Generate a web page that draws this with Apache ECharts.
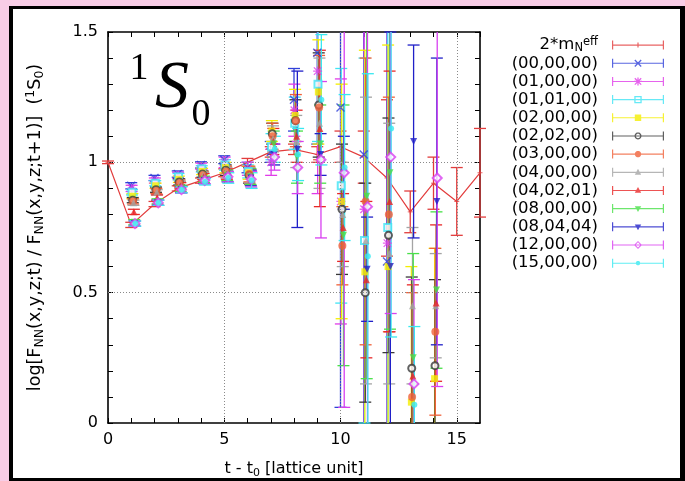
<!DOCTYPE html>
<html><head><meta charset="utf-8">
<script src="https://cdn.jsdelivr.net/npm/echarts@6/dist/echarts.min.js"></script>
<style>
html,body{margin:0;padding:0;background:#f8cde6;width:685px;height:481px;overflow:hidden}
#frame{position:absolute;left:9px;top:6px;width:676px;height:475px;box-sizing:border-box;border-left:4px solid #000;border-top:3px solid #000;border-right:5px solid #000;border-bottom:3px solid #000;background:#fff}
#chart{position:absolute;left:0;top:0;width:685px;height:481px}
</style></head>
<body><div id="frame"></div><div id="chart"></div>
<script>
// ---------------- data ----------------
const tSteps = [1,2,3,4,5,6,7,8,9,10,11,12,13,14];
const tMass = [0,1,2,3,4,5,6,7,8,9,10,11,12,13,14,15,16];
const mass2 = [1.00,0.76,0.84,0.90,0.93,0.96,1.00,1.04,1.05,1.03,1.06,1.02,0.94,0.81,0.92,0.85,0.96];
const mass2Err = [0.005,0.01,0.01,0.01,0.01,0.015,0.015,0.02,0.02,0.03,0.06,0.1,0.3,0.08,0.1,0.13,0.17];

const seriesNames = ['(00,00,00)','(01,00,00)','(01,01,00)','(02,00,00)','(02,02,00)','(03,00,00)','(04,00,00)','(04,02,01)','(08,00,00)','(08,04,04)','(12,00,00)','(15,00,00)'];
const massName = '2*mN_eff';
const xTickLabels = [0,5,10,15];
const yTickLabels = [0,0.5,1,1.5];

const v_00_00_00 = [0.91,0.94,0.955,0.99,1.01,0.98,1.04,1.24,1.42,1.21,1.03,0.62,null,null];
const e_00_00_00 = [0.012,0.01,0.012,0.012,0.015,0.02,0.04,0.12,0.35,1.15,1.1,0.9,null,null];
const v_01_00_00 = [0.90,0.93,0.95,0.985,1.00,0.975,1.00,1.20,1.35,0.85,0.82,0.69,null,null];
const e_01_00_00 = [0.012,0.01,0.012,0.012,0.02,0.025,0.05,0.1,0.47,0.47,0.9,0.9,null,null];
const v_01_01_00 = [0.885,0.92,0.945,0.975,0.99,0.965,1.06,1.15,1.30,0.91,0.70,0.75,null,null];
const e_01_01_00 = [0.01,0.01,0.012,0.012,0.02,0.025,0.05,0.1,0.22,0.45,0.7,0.9,null,null];
const v_02_00_00 = [0.87,0.91,0.935,0.965,0.98,0.96,1.12,1.18,1.27,0.85,0.58,0.60,0.08,0.17];
const e_02_00_00 = [0.01,0.01,0.012,0.012,0.02,0.025,0.04,0.1,0.2,0.45,0.85,0.85,0.52,0.5];
const v_02_02_00 = [0.855,0.895,0.925,0.955,0.97,0.95,1.11,1.16,1.22,0.82,0.50,0.72,0.21,0.22];
const e_02_02_00 = [0.01,0.01,0.012,0.012,0.02,0.03,0.04,0.08,0.2,0.25,0.42,0.45,0.35,0.33];
const v_03_00_00 = [0.85,0.89,0.92,0.95,0.965,0.955,1.10,1.16,1.21,0.68,0.85,0.80,0.10,0.35];
const e_03_00_00 = [0.01,0.01,0.012,0.015,0.02,0.03,0.05,0.1,0.2,0.15,0.55,0.45,0.4,0.32];
const v_04_00_00 = [0.845,0.885,0.915,0.95,0.96,0.95,1.09,1.08,1.15,0.80,0.70,0.65,0.45,0.45];
const e_04_00_00 = [0.01,0.01,0.012,0.012,0.02,0.03,0.05,0.1,0.25,0.2,0.55,0.5,0.3,0.2];
const v_04_02_01 = [0.81,0.865,0.91,0.945,0.955,0.945,1.08,1.10,1.13,0.75,0.55,0.85,0.18,0.46];
const e_04_02_01 = [0.01,0.01,0.012,0.012,0.02,0.03,0.05,0.1,0.3,0.13,0.3,0.5,0.35,0.3];
const v_08_00_00 = [0.77,0.85,0.90,0.935,0.95,0.945,1.07,1.02,1.07,0.72,0.87,0.96,0.25,0.51];
const e_08_00_00 = [0.01,0.01,0.012,0.012,0.02,0.03,0.05,0.1,0.15,0.5,0.7,0.6,0.4,0.3];
const v_08_04_04 = [0.765,0.845,0.895,0.93,0.945,0.94,1.03,1.05,1.03,0.96,0.59,0.60,1.08,0.85];
const e_08_04_04 = [0.01,0.01,0.012,0.012,0.02,0.03,0.04,0.3,0.08,0.14,0.2,0.9,0.37,0.55];
const v_12_00_00 = [0.765,0.845,0.895,0.93,0.945,0.935,1.02,0.98,1.01,0.96,0.83,1.02,0.15,0.94];
const e_12_00_00 = [0.01,0.01,0.012,0.012,0.02,0.03,0.05,0.1,0.3,0.9,0.9,0.6,0.4,0.8];
const v_15_00_00 = [0.765,0.845,0.895,0.925,0.94,0.93,1.05,1.03,1.24,0.98,0.64,1.13,0.07,null];
const e_15_00_00 = [0.01,0.01,0.012,0.012,0.02,0.03,0.05,0.1,0.25,0.28,0.7,0.8,0.3,null];

// ---------------- styling ----------------
const valueArrays = [v_00_00_00,v_01_00_00,v_01_01_00,v_02_00_00,v_02_02_00,v_03_00_00,v_04_00_00,v_04_02_01,v_08_00_00,v_08_04_04,v_12_00_00,v_15_00_00];
const errorArrays = [e_00_00_00,e_01_00_00,e_01_01_00,e_02_00_00,e_02_02_00,e_03_00_00,e_04_00_00,e_04_02_01,e_08_00_00,e_08_04_04,e_12_00_00,e_15_00_00];
const colors = ['#3040d8','#e03ce8','#40e4f4','#f4ee00','#383838','#f06038','#a4a4a4','#e82828','#48e048','#2020c8','#d840f0','#38e8f0'];
const massColor = '#e23c3c';
const markerKinds = ['x','star','sqOpen','sqFill','circOpen','circFill','triUp','triUpRed','triDown','triDown','diaOpen','dot'];
const Y_MIN = 0, Y_MAX = 1.5, X_MIN = 0, X_MAX = 16;
const FONT = 'DejaVu Sans';

// legend icon paths
function area(p){let s=0;for(let i=0;i<p.length;i++){const a=p[i],b=p[(i+1)%p.length];s+=a[0]*b[1]-b[0]*a[1];}return s/2;}
function poly(p,cw){const a=area(p);const q=((a>0)===cw)?p:p.slice().reverse();return 'M'+q.map(v=>v[0].toFixed(2)+' '+v[1].toFixed(2)).join('L')+'Z';}
function seg(x1,y1,x2,y2,w){const dx=x2-x1,dy=y2-y1,L=Math.hypot(dx,dy);const nx=-dy/L*w/2,ny=dx/L*w/2;return [[x1+nx,y1+ny],[x2+nx,y2+ny],[x2-nx,y2-ny],[x1-nx,y1-ny]];}
function circ(cx,cy,r){const p=[];for(let i=0;i<20;i++){const a=i/20*Math.PI*2;p.push([cx+r*Math.cos(a),cy+r*Math.sin(a)]);}return p;}
function sq(cx,cy,r){return [[cx-r,cy-r],[cx+r,cy-r],[cx+r,cy+r],[cx-r,cy+r]];}
function dia(cx,cy,r){return [[cx,cy-r],[cx+r,cy],[cx,cy+r],[cx-r,cy]];}
function legendIcon(kind){
  const W=52,H=9,cx=26,cy=4.5;
  let d = poly([[0,4],[W,4],[W,5.1],[0,5.1]],true)+poly([[0,0],[1.2,0],[1.2,H],[0,H]],true)+poly([[W-1.2,0],[W,0],[W,H],[W-1.2,H]],true);
  const r=3.2;
  switch(kind){
    case 'plus': d+=poly(seg(cx,cy-2.5,cx,cy+2.5,1.2),true);break;
    case 'x': d+=poly(seg(cx-r,cy-r,cx+r,cy+r,1.3),true)+poly(seg(cx+r,cy-r,cx-r,cy+r,1.3),true);break;
    case 'star': d+=poly(seg(cx-r,cy-r,cx+r,cy+r,1.3),true)+poly(seg(cx+r,cy-r,cx-r,cy+r,1.3),true)+poly(seg(cx,cy-r-0.8,cx,cy+r+0.8,1.3),true)+poly(seg(cx-r-0.8,cy,cx+r+0.8,cy,1.3),true);break;
    case 'sqOpen': d+=poly(sq(cx,cy,r+0.5),true)+poly(sq(cx,cy,r-0.8),false);break;
    case 'sqFill': d+=poly(sq(cx,cy,r),true);break;
    case 'circOpen': d+=poly(circ(cx,cy,r+0.3),true)+poly(circ(cx,cy,r-1),false);break;
    case 'circFill': d+=poly(circ(cx,cy,r),true);break;
    case 'triUp': case 'triUpRed': d+=poly([[cx,cy-r-0.3],[cx+r,cy+r-0.8],[cx-r,cy+r-0.8]],true);break;
    case 'triDown': d+=poly([[cx,cy+r+0.3],[cx+r,cy-r+0.8],[cx-r,cy-r+0.8]],true);break;
    case 'diaOpen': d+=poly(dia(cx,cy,r+0.8),true)+poly(dia(cx,cy,r-0.6),false);break;
    case 'dot': d+=poly(circ(cx,cy,2.2),true);break;
  }
  return 'path://'+d;
}
function scatterSymbol(kind,c){
  switch(kind){
    case 'x': return {symbol:'path://M0 0L10 10M10 0L0 10',size:8,rotate:0,style:{color:c,borderColor:c,borderWidth:1.4}};
    case 'star': return {symbol:'path://M0 0L10 10M10 0L0 10M5 -1L5 11M-1 5L11 5',size:9,rotate:0,style:{color:c,borderColor:c,borderWidth:1.3}};
    case 'sqOpen': return {symbol:'emptyRect',size:7,rotate:0,style:{color:c}};
    case 'sqFill': return {symbol:'rect',size:7,rotate:0,style:{color:c}};
    case 'circOpen': return {symbol:'emptyCircle',size:7,rotate:0,style:{color:c}};
    case 'circFill': return {symbol:'circle',size:8,rotate:0,style:{color:c}};
    case 'triUp': case 'triUpRed': return {symbol:'triangle',size:7,rotate:0,style:{color:c}};
    case 'triDown': return {symbol:'triangle',size:7,rotate:180,style:{color:c}};
    case 'diaOpen': return {symbol:'emptyDiamond',size:9,rotate:0,style:{color:c}};
    case 'dot': return {symbol:'circle',size:6,rotate:0,style:{color:c}};
  }
}
function errRender(params, api){
  const x=api.value(0), y=api.value(1), e=api.value(2);
  if(isNaN(y)) return;
  const lo=y-e, hi=y+e;
  if(hi<Y_MIN||lo>Y_MAX) return;
  const a=api.coord([x,Math.min(hi,Y_MAX)]), b=api.coord([x,Math.max(lo,Y_MIN)]);
  const style={stroke:api.visual('color'),lineWidth:1.3};
  const cw=6;
  const ch=[{type:'line',shape:{x1:a[0],y1:a[1],x2:b[0],y2:b[1]},style}];
  if(hi<=Y_MAX) ch.push({type:'line',shape:{x1:a[0]-cw,y1:a[1],x2:a[0]+cw,y2:a[1]},style});
  if(lo>=Y_MIN) ch.push({type:'line',shape:{x1:b[0]-cw,y1:b[1],x2:b[0]+cw,y2:b[1]},style});
  return {type:'group',children:ch};
}

const series = [];
// grid lines (dotted)
series.push({type:'line',name:'grid',data:[],silent:true,z:1,
  markLine:{silent:true,symbol:['none','none'],label:{show:false},animation:false,
    lineStyle:{type:[1,2],color:'#8a8a8a',width:1},
    data:[{xAxis:5},{xAxis:10},{xAxis:15},{yAxis:0.5},{yAxis:1}]}});
// 2*m_N^eff
series.push({type:'custom',name:'massErr',renderItem:errRender,itemStyle:{color:massColor},
  data:tMass.map((t,i)=>[t,mass2[i],mass2Err[i]]),encode:{x:0,y:1},z:3,animation:false});
series.push({type:'line',name:'massLine',data:tMass.map((t,i)=>[t,mass2[i]]),showSymbol:false,symbol:'none',
  lineStyle:{color:massColor,width:1.2},itemStyle:{color:massColor},z:3,animation:false});
series.push({type:'scatter',name:massName,data:tMass.map((t,i)=>[t,mass2[i]]),
  symbol:'path://M5 0L5 10M0 5L10 5',symbolSize:5,itemStyle:{color:massColor,borderColor:massColor,borderWidth:1},z:3,animation:false});

seriesNames.forEach((nm,k)=>{
  const vals=valueArrays[k], errs=errorArrays[k], c=colors[k];
  const off=k*0.016;
  const pts=[]; const ebs=[];
  tSteps.forEach((t,i)=>{ if(vals[i]!=null){ pts.push([t+off,vals[i]]); ebs.push([t+off,vals[i],errs[i]]); } });
  series.push({type:'custom',name:'err'+k,renderItem:errRender,itemStyle:{color:c},data:ebs,encode:{x:0,y:1},z:4,animation:false});
  const s=scatterSymbol(markerKinds[k],c);
  series.push({type:'scatter',name:nm,data:pts,symbol:s.symbol,symbolSize:s.size,symbolRotate:s.rotate,itemStyle:s.style,z:4,animation:false});
});

const legendData=[{name:massName,icon:legendIcon('plus'),itemStyle:{color:massColor,borderWidth:0}}]
  .concat(seriesNames.map((nm,k)=>({name:nm,icon:legendIcon(markerKinds[k]),itemStyle:{color:colors[k],borderWidth:0}})));

const axisCommon={axisLine:{show:true,onZero:false,lineStyle:{color:'#000',width:1.6}},
  axisTick:{show:true,inside:true,length:5,lineStyle:{color:'#000',width:1}},splitLine:{show:false}};

const chart=echarts.init(document.getElementById('chart'),null,{renderer:'canvas'});
chart.setOption({
  backgroundColor:'transparent',
  animation:false,
  textStyle:{fontFamily:FONT},
  grid:{left:108,right:205,top:32,bottom:58,containLabel:false,outerBoundsMode:'none'},
  xAxis:[
    Object.assign({type:'value',min:X_MIN,max:X_MAX,interval:1,position:'bottom',
      axisLabel:{color:'#000',fontSize:16,fontFamily:FONT,margin:9,showMaxLabel:false,
        formatter:v=>xTickLabels.indexOf(v)>=0?String(v):''},
      name:'{a|t - t}{s|0}{a| [lattice unit]}',nameLocation:'middle',nameGap:36,
      nameTextStyle:{color:'#000',fontFamily:FONT,fontSize:16,rich:{a:{fontSize:16,fontFamily:FONT,color:'#000',lineHeight:20},s:{fontSize:11,fontFamily:FONT,color:'#000',lineHeight:12,verticalAlign:'bottom'}}}},axisCommon),
    Object.assign({type:'value',min:X_MIN,max:X_MAX,interval:1,position:'top',axisLabel:{show:false}},axisCommon)
  ],
  yAxis:[
    Object.assign({type:'value',min:Y_MIN,max:Y_MAX,interval:0.1,position:'left',
      axisLabel:{color:'#000',fontSize:16,fontFamily:FONT,margin:10,
        formatter:v=>{const m=yTickLabels.find(l=>Math.abs(l-v)<1e-6);return m===undefined?'':String(m);}},
      name:'{a|log[F}{s|NN}{a|(x,y,z;t) / F}{s|NN}{a|(x,y,z;t+1)]  (}{p|1}{a|S}{s|0}{a|)}',nameLocation:'middle',nameGap:62,nameRotate:90,
      nameTextStyle:{color:'#000',fontFamily:FONT,fontSize:17.5,rich:{a:{fontSize:17.5,fontFamily:FONT,color:'#000',lineHeight:22},s:{fontSize:12.5,fontFamily:FONT,color:'#000',lineHeight:13,verticalAlign:'bottom'},p:{fontSize:12.5,fontFamily:FONT,color:'#000',lineHeight:13,verticalAlign:'top'}}}},axisCommon),
    Object.assign({type:'value',min:Y_MIN,max:Y_MAX,interval:0.1,position:'right',axisLabel:{show:false}},axisCommon)
  ],
  legend:{orient:'vertical',right:21,top:36,align:'right',itemWidth:52,itemHeight:9,itemGap:0,padding:0,
    selectedMode:false,
    data:legendData,
    formatter:n=>n===massName?'{m|2*m}{n|N}{e|eff}':n,
    textStyle:{color:'#000',fontFamily:FONT,fontSize:16.5,lineHeight:18.17,padding:[0,9,0,0],
      rich:{m:{fontSize:16.5,fontFamily:FONT,color:'#000',lineHeight:18.17},n:{fontSize:11.5,fontFamily:FONT,color:'#000',lineHeight:10,verticalAlign:'bottom'},e:{fontSize:11.5,fontFamily:FONT,color:'#000',lineHeight:10,verticalAlign:'top'}}}},
  graphic:[
    {type:'text',x:139,y:69,style:{text:'1',font:'38px "Liberation Serif"',fill:'#000',align:'center',verticalAlign:'middle'}},
    {type:'text',x:172,y:89,style:{text:'S',font:'italic 68px "Liberation Serif"',fill:'#000',align:'center',verticalAlign:'middle'}},
    {type:'text',x:201,y:115,style:{text:'0',font:'38px "Liberation Serif"',fill:'#000',align:'center',verticalAlign:'middle'}}
  ],
  series:series
});
</script></body></html>
